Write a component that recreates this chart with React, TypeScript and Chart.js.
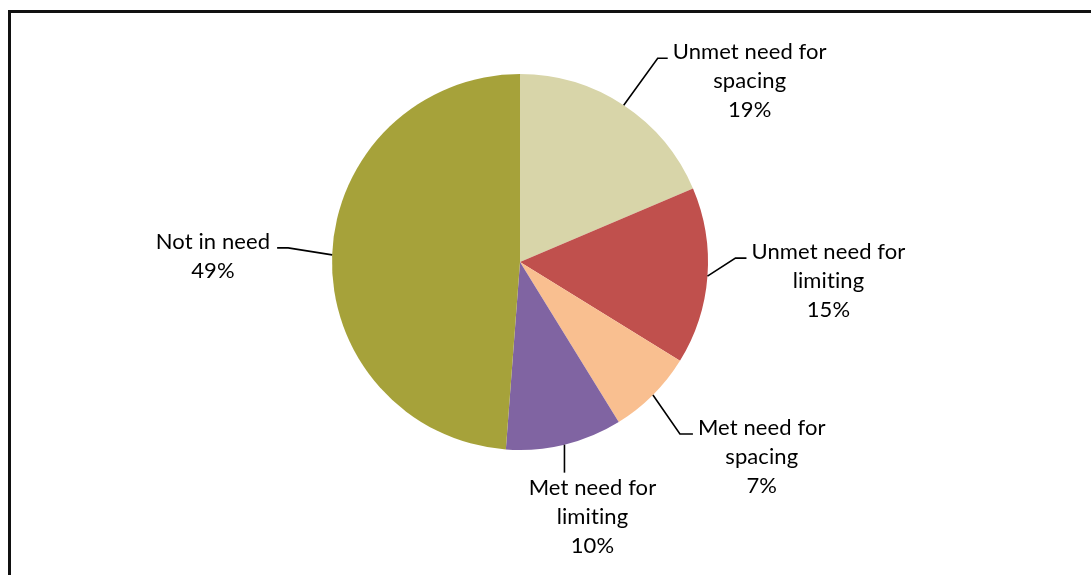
import React, { useEffect, useRef } from "react";
import { Chart, registerables } from "chart.js";

Chart.register(...registerables);

const categories = [
  ["Unmet need for", "spacing"],
  ["Unmet need for", "limiting"],
  ["Met need for", "spacing"],
  ["Met need for", "limiting"],
  ["Not in need"],
];
const values = [18.6, 15.2, 7.4, 10.0, 48.8];
const colors = ["#D8D5A9", "#C0504D", "#F9BF90", "#8064A2", "#A6A23A"];

// leader styling: elbow offset from slice edge, horizontal tail, text side
const leaderStyle = [
  { ex: 34, ey: -47, hx: 10, side: "right" },
  { ex: 28, ey: -18, hx: 11, side: "right" },
  { ex: 27, ey: 39, hx: 13, side: "right" },
  { ex: 0, ey: 28, hx: 0, side: "below" },
  { ex: -44, ey: -7, hx: -11, side: "left" },
];

const FONT = "22px Lato, 'Noto Sans', sans-serif";
const LINE_H = 29;

const labelPlugin = {
  id: "pieLabels",
  afterDraw(chart: any) {
    const ctx = chart.ctx as any;
    ctx.save();
    // frame (left and top edges)
    ctx.fillStyle = "#111";
    ctx.fillRect(8, 10, 3, 565);
    ctx.fillRect(8, 10, 1083, 3);

    const meta = chart.getDatasetMeta(0);
    ctx.font = FONT;
    if ("letterSpacing" in ctx) ctx.letterSpacing = "0.1px";
    ctx.fillStyle = "#000";
    ctx.strokeStyle = "#000";
    ctx.lineWidth = 1.6;
    meta.data.forEach((arc: any, i: number) => {
      const p = arc.getProps(["x", "y", "startAngle", "endAngle", "outerRadius"], true);
      const mid = (p.startAngle + p.endAngle) / 2;
      const px = p.x + Math.cos(mid) * p.outerRadius;
      const py = p.y + Math.sin(mid) * p.outerRadius;
      const st = leaderStyle[i];
      const ex = px + st.ex;
      const ey = py + st.ey;
      const hx = ex + st.hx;
      ctx.beginPath();
      ctx.moveTo(px, py);
      ctx.lineTo(ex, ey);
      ctx.lineTo(hx, ey);
      ctx.stroke();

      const lines = [...categories[i], Math.round(values[i]) + "%"];
      const maxW = Math.max(...lines.map((l) => ctx.measureText(l).width));
      let cx: number;
      let baseY: number;
      if (st.side === "right") {
        cx = hx + 5 + maxW / 2;
        baseY = ey + 1;
      } else if (st.side === "left") {
        cx = hx - 7 - maxW / 2;
        baseY = ey + 1;
      } else {
        cx = ex + 28;
        baseY = ey + 22;
      }
      ctx.textAlign = "center";
      ctx.textBaseline = "alphabetic";
      lines.forEach((l, k) => ctx.fillText(l, cx, baseY + k * LINE_H));
    });
    ctx.restore();
  },
};

export default function App() {
  const ref = useRef<HTMLCanvasElement>(null);
  useEffect(() => {
    if (!ref.current) return;
    const chart = new Chart(ref.current, {
      type: "pie",
      data: {
        labels: categories.map((c) => c.join(" ")),
        datasets: [
          {
            data: values,
            backgroundColor: colors,
            borderWidth: 0,
          },
        ],
      },
      options: {
        responsive: false,
        animation: false,
        layout: { padding: { left: 332, right: 383, top: 74, bottom: 125 } },
        plugins: { legend: { display: false }, tooltip: { enabled: false } },
      },
      plugins: [labelPlugin],
    });
    return () => chart.destroy();
  }, []);
  return (
    <div style={{ position: "fixed", left: 0, top: 0, width: 1091, height: 575, background: "#fff" }}>
      <canvas ref={ref} width={1091} height={575} style={{ display: "block" }} />
    </div>
  );
}
